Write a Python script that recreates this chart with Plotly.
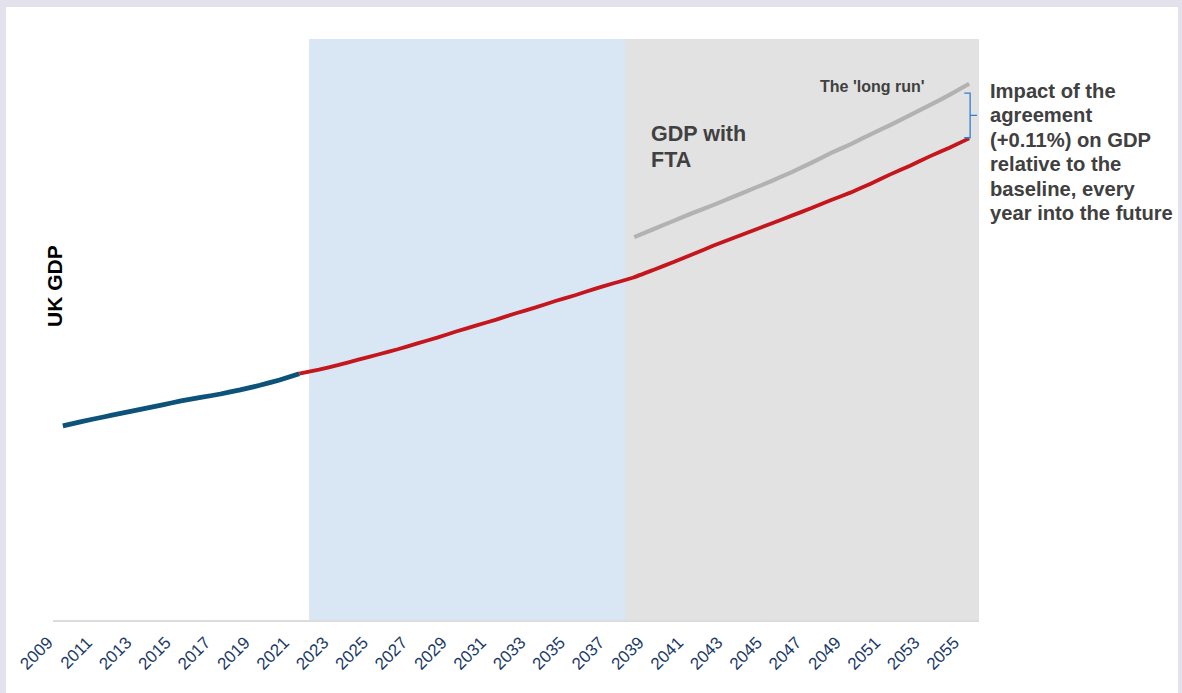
import plotly.graph_objects as go

# ---------------- data ----------------
years_hist = list(range(2009, 2022))
gdp_hist = [33.4, 34.2, 34.9, 35.6, 36.3, 37.0, 37.7, 38.3, 38.9, 39.6, 40.4, 41.3, 42.4]

years_base = list(range(2021, 2056))
gdp_base = [42.4, 43.1, 43.9, 44.8, 45.7, 46.6, 47.6, 48.6, 49.7, 50.7,
            51.7, 52.8, 53.8, 54.9, 55.9, 57.0, 58.0, 59.0, 60.3, 61.6,
            63.0, 64.4, 65.7, 67.0, 68.3, 69.6, 70.9, 72.3, 73.6, 75.1,
            76.7, 78.2, 79.8, 81.3, 82.9]

years_fta = list(range(2038, 2056))
gdp_fta = [65.9, 67.3, 68.7, 70.1, 71.4, 72.8, 74.2, 75.6, 77.1, 78.7,
           80.4, 81.9, 83.6, 85.2, 86.9, 88.6, 90.4, 92.3]

tick_years = list(range(2009, 2056, 2))
tick_labels = [str(y) for y in tick_years]

period_short_start = 2022
period_long_start = 2038
last_year = 2055

fta_label_lines = ["GDP with", "FTA"]
impact_lines = ["Impact of the", "agreement", "(+0.11%) on GDP",
                "relative to the", "baseline, every", "year into the future"]

# ---------------- figure ----------------
W, H = 1182, 693
ML, MR, MT, MB = 53, 203, 39, 73
PW, PH = W - ML - MR, H - MT - MB

fig = go.Figure()

fig.add_trace(go.Scatter(x=years_base, y=gdp_base, mode="lines",
                         line=dict(color="#c4161c", width=3.8, shape="spline", smoothing=0.3),
                         hoverinfo="skip", showlegend=False))
fig.add_trace(go.Scatter(x=years_hist, y=gdp_hist, mode="lines",
                         line=dict(color="#0d5279", width=4.8, shape="spline", smoothing=0.2),
                         hoverinfo="skip", showlegend=False))
fig.add_trace(go.Scatter(x=years_fta, y=gdp_fta, mode="lines",
                         line=dict(color="#b4b1b1", width=4.2, shape="spline", smoothing=0.3),
                         hoverinfo="skip", showlegend=False))


def px2paper_x(px):
    return (px - ML) / PW


def px2paper_y(py):
    return (H - MB - py) / PH


# white card
fig.add_shape(type="rect", xref="paper", yref="paper", layer="below",
              x0=px2paper_x(6), x1=px2paper_x(1178), y0=px2paper_y(7), y1=px2paper_y(H + 5),
              fillcolor="white", line=dict(width=0))
# shaded periods (blue runs under the grey one to avoid a seam)
fig.add_shape(type="rect", xref="x", yref="paper", layer="below",
              x0=period_short_start - 0.5, x1=last_year + 0.5, y0=0, y1=1,
              fillcolor="#d9e6f3", line=dict(width=0))
fig.add_shape(type="rect", xref="x", yref="paper", layer="below",
              x0=period_long_start - 0.45, x1=last_year + 0.5, y0=0, y1=1,
              fillcolor="#e2e2e2", line=dict(width=0))

# bracket between the two lines at the final year
top = gdp_fta[-1] - 1.6
bot = gdp_base[-1] + 0.1
mid = (top + bot) / 2
bx = last_year + 0.05
fig.add_shape(type="path", xref="x", yref="y",
              path=f"M {bx-0.3},{top} L {bx},{top} L {bx},{bot} L {bx-0.3},{bot} M {bx},{mid} L {bx+0.35},{mid}",
              line=dict(color="#2f7fd0", width=1.3))

font = "Liberation Sans, Arial, Helvetica, sans-serif"

fig.add_annotation(x=px2paper_x(54), y=px2paper_y(286), xref="paper", yref="paper",
                   xanchor="center", yanchor="middle",
                   text="<b>UK GDP</b>", textangle=-90, showarrow=False,
                   font=dict(family=font, size=21, color="#000000"))

for i, line in enumerate(fta_label_lines):
    fig.add_annotation(x=px2paper_x(649), y=px2paper_y(134 + i * 26), xref="paper", yref="paper",
                       xanchor="left", yanchor="middle", align="left",
                       text=f"<b>{line}</b>", showarrow=False,
                       font=dict(family=font, size=21.5, color="#404040"))

fig.add_annotation(x=px2paper_x(926), y=px2paper_y(87), xref="paper", yref="paper",
                   xanchor="right", yanchor="middle",
                   text="<b>The 'long run'</b>", showarrow=False,
                   font=dict(family=font, size=16, color="#404040"))

for i, line in enumerate(impact_lines):
    fig.add_annotation(x=px2paper_x(988), y=px2paper_y(91 + i * 24.4), xref="paper", yref="paper",
                       xanchor="left", yanchor="middle", align="left",
                       text=f"<b>{line}</b>", showarrow=False,
                       font=dict(family=font, size=20.2, color="#404040"))

fig.update_layout(
    width=W, height=H,
    margin=dict(l=ML, r=MR, t=MT, b=MB, pad=0),
    paper_bgcolor="#e3e1ec",
    plot_bgcolor="rgba(0,0,0,0)",
    showlegend=False,
    xaxis=dict(range=[2008.5, 2055.5], tickmode="array", tickvals=tick_years,
               ticktext=tick_labels, tickangle=-45, showgrid=False, zeroline=False,
               showline=True, linecolor="#dcdcdc", linewidth=2,
               ticks="outside", ticklen=4, tickcolor="rgba(0,0,0,0)",
               ticklabelshift=-15,
               tickfont=dict(family=font, size=17, color="#1b3a66")),
    yaxis=dict(range=[0, 100], visible=False, showgrid=False, zeroline=False),
)

fig.write_html(
    "out.html",
    config={"displayModeBar": False},
    post_script="document.body.style.margin='0';document.body.style.padding='0';"
                "document.body.style.overflow='hidden';document.body.style.background='#e3e1ec';",
)
